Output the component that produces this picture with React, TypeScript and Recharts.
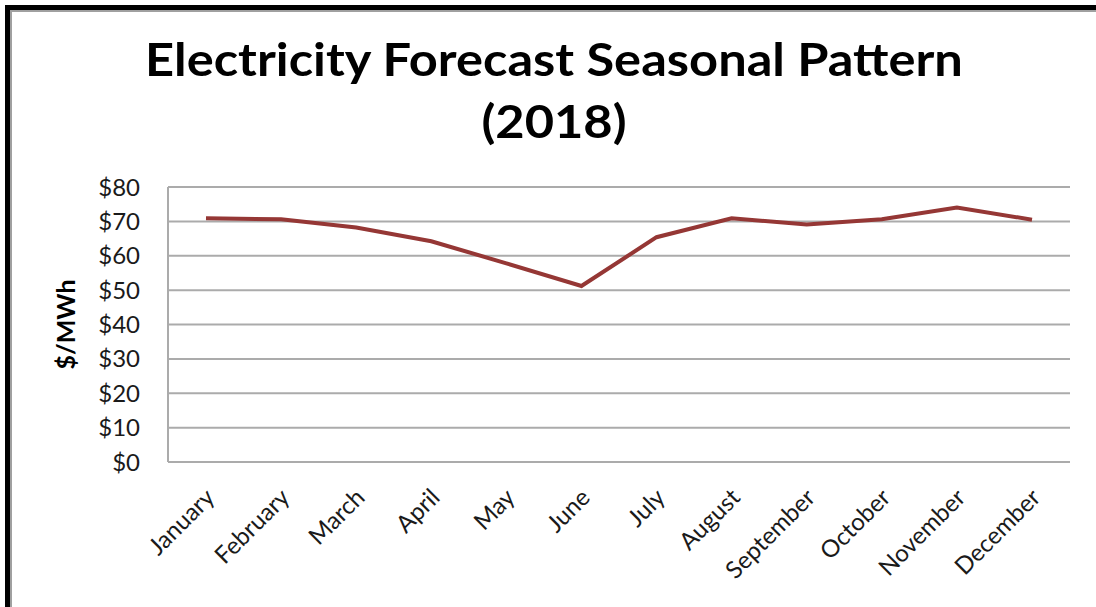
import React from 'react';
import { LineChart, Line, XAxis, YAxis, CartesianGrid } from 'recharts';

const months = [
  'January', 'February', 'March', 'April', 'May', 'June',
  'July', 'August', 'September', 'October', 'November', 'December',
];
const prices = [70.9, 70.6, 68.2, 64.2, 57.8, 51.2, 65.4, 70.9, 69.1, 70.6, 74.0, 70.5];
const yTicks = [0, 10, 20, 30, 40, 50, 60, 70, 80];

const data = months.map((m, i) => ({ month: m, price: prices[i] }));

const FONT = 'Lato, "Open Sans", sans-serif';

const MonthTick = (props: any) => {
  const { x, y, payload } = props;
  return (
    <text
      transform={`translate(${x + 10}, ${y + 37}) rotate(-45)`}
      textAnchor="end"
      fontSize={24}
      fontFamily={FONT}
      fill="#1a1a1a"
    >
      {payload.value}
    </text>
  );
};

const App: React.FC = () => {
  return (
    <div style={{ position: 'absolute', left: 0, top: 0, width: 1096, height: 607, background: '#fff', overflow: 'hidden', fontFamily: FONT }}>
      {/* frame, only top and left edges are visible in the crop */}
      <div style={{ position: 'absolute', left: 5, top: 5, width: 1200, height: 700, borderTop: '5px solid #000', borderLeft: '5px solid #000' }} />
      <div style={{ position: 'absolute', left: 10, top: 10, width: 1200, height: 700, borderTop: '2px solid #a0a0a0', borderLeft: '2px solid #a0a0a0' }} />

      <div
        style={{
          position: 'absolute', left: 0, width: 1108, top: 28, textAlign: 'center',
          fontWeight: 700, fontSize: 46, lineHeight: '62px', color: '#000',
          transform: 'scaleX(1.1)', transformOrigin: '554px 0',
        }}
      >
        Electricity Forecast Seasonal Pattern
        <br />
        (2018)
      </div>

      <LineChart
        width={1096}
        height={607}
        data={data}
        margin={{ top: 187, right: 26, left: 0, bottom: 0 }}
        style={{ position: 'absolute', left: 0, top: 0 }}
      >
        <CartesianGrid vertical={false} stroke="#ababab" strokeWidth={2} />
        <XAxis
          dataKey="month"
          height={145}
          interval={0}
          padding={{ left: 38, right: 38 }}
          axisLine={false}
          tickLine={false}
          tickSize={0}
          tickMargin={0}
          tick={<MonthTick />}
        />
        <YAxis
          width={168}
          domain={[0, 80]}
          ticks={yTicks}
          interval={0}
          tickFormatter={(v: number) => `$${v}`}
          axisLine={{ stroke: '#ababab', strokeWidth: 2 }}
          tickLine={false}
          tickSize={0}
          tickMargin={28}
          tick={{ fontSize: 24, fontFamily: FONT, fill: '#1a1a1a' }}
          label={{
            value: '$/MWh',
            angle: -90,
            position: 'insideLeft',
            offset: 0,
            dx: 66,
            style: { fontSize: 25, fontWeight: 700, fontFamily: FONT, fill: '#000', textAnchor: 'middle' },
          }}
        />
        <Line
          type="linear"
          dataKey="price"
          stroke="#953735"
          strokeWidth={4}
          dot={false}
          activeDot={false}
          isAnimationActive={false}
        />
      </LineChart>
    </div>
  );
};

export default App;
